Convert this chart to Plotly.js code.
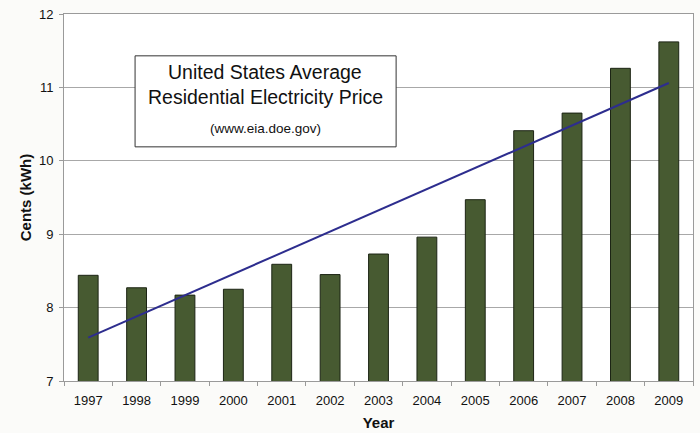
<!DOCTYPE html>
<html>
<head>
<meta charset="utf-8">
<script src="https://cdn.plot.ly/plotly-3.0.1.min.js"></script>
<style>
  html, body { margin: 0; padding: 0; background: #fbfbf9; }
  #chart { width: 700px; height: 433px; }
</style>
</head>
<body>
<div id="chart"></div>
<script>
const years = ['1997','1998','1999','2000','2001','2002','2003','2004','2005','2006','2007','2008','2009'];
const centsPerKWh = [8.44, 8.27, 8.17, 8.25, 8.59, 8.45, 8.73, 8.96, 9.47, 10.41, 10.65, 11.26, 11.62];
const trendYears = ['1997', '2009'];
const trendValues = [7.59, 11.06];
const yTicks = [7, 8, 9, 10, 11, 12];

const barTrace = {
  type: 'bar',
  x: years,
  y: centsPerKWh,
  width: 0.41,
  marker: { color: '#475a31', line: { color: '#1c2414', width: 1 } },
  hoverinfo: 'x+y'
};
const trendTrace = {
  type: 'scatter',
  mode: 'lines',
  x: trendYears,
  y: trendValues,
  line: { color: '#2d2d8e', width: 2 },
  hoverinfo: 'skip'
};

const font = 'Liberation Sans, Arial, sans-serif';
const layout = {
  width: 700, height: 433,
  margin: { l: 64, r: 7, t: 14, b: 52 },
  paper_bgcolor: '#fbfbf9',
  plot_bgcolor: '#ffffff',
  showlegend: false,
  font: { family: font, color: '#111', size: 13 },
  xaxis: {
    type: 'category',
    showline: true, mirror: true, linecolor: '#9a9a9a', linewidth: 1,
    ticks: 'outside', tickson: 'boundaries', ticklen: 4, tickcolor: '#9a9a9a',
    showgrid: false,
    ticklabelstandoff: 7,
    tickfont: { family: font, size: 13, color: '#111' },
    title: { text: '<b>Year</b>', font: { family: font, size: 15, color: '#111' }, standoff: 10 }
  },
  yaxis: {
    range: [7, 12],
    tickvals: yTicks,
    ticktext: yTicks.map(String),
    showline: true, mirror: true, linecolor: '#9a9a9a', linewidth: 1,
    ticks: 'outside', ticklen: 4, tickcolor: '#9a9a9a',
    showgrid: true, gridcolor: '#a8a8a8', gridwidth: 1,
    zeroline: false,
    ticklabelstandoff: 3,
    tickfont: { family: font, size: 13, color: '#111' },
    title: { text: '<b>Cents (kWh)</b>', font: { family: font, size: 15, color: '#111' }, standoff: 3 }
  },
  shapes: [{
    type: 'rect', xref: 'paper', yref: 'paper',
    x0: 0.113, x1: 0.528, y0: 0.638, y1: 0.886,
    line: { color: '#333', width: 1 }, fillcolor: '#ffffff', layer: 'above'
  }],
  annotations: [
    { xref: 'paper', yref: 'paper', x: 0.320, y: 0.842, xanchor: 'center', yanchor: 'middle',
      text: 'United States Average', showarrow: false,
      font: { family: font, size: 19.5, color: '#111' } },
    { xref: 'paper', yref: 'paper', x: 0.320, y: 0.774, xanchor: 'center', yanchor: 'middle',
      text: 'Residential Electricity Price', showarrow: false,
      font: { family: font, size: 19.5, color: '#111' } },
    { xref: 'paper', yref: 'paper', x: 0.320, y: 0.689, xanchor: 'center', yanchor: 'middle',
      text: '(www.eia.doe.gov)', showarrow: false,
      font: { family: font, size: 13.5, color: '#111' } }
  ]
};

Plotly.newPlot('chart', [barTrace, trendTrace], layout, { displayModeBar: false, staticPlot: true });
</script>
</body>
</html>
